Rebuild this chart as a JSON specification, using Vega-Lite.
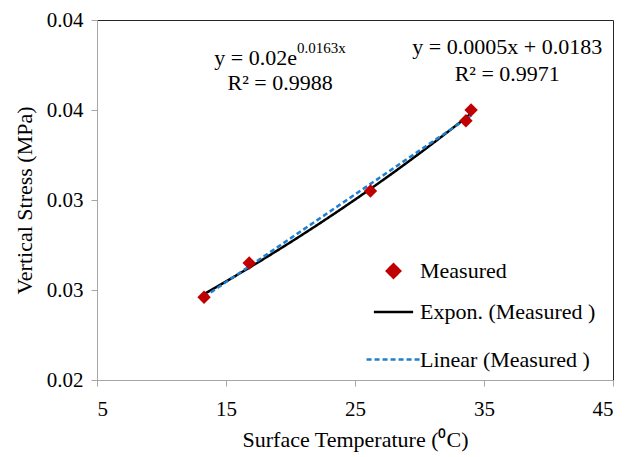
{
  "$schema": "https://vega.github.io/schema/vega-lite/v6.json",
  "width": 516,
  "height": 360,
  "autosize": "none",
  "padding": {"left": 97, "top": 20, "right": 29, "bottom": 77},
  "background": "white",
  "config": {
    "view": {"stroke": "#262626", "strokeWidth": 1},
    "font": "Liberation Serif",
    "axis": {
      "grid": false,
      "domainColor": "#a6a6a6",
      "tickColor": "#a6a6a6",
      "tickSize": 6,
      "labelFont": "Liberation Serif",
      "labelFontSize": 20,
      "labelColor": "#000000",
      "titleFont": "Liberation Serif",
      "titleFontSize": 22,
      "titleFontWeight": "normal",
      "titleColor": "#000000"
    }
  },
  "datasets": {
    "measured": [
      {"x": 13.3, "y": 0.0246},
      {"x": 16.8, "y": 0.0265},
      {"x": 26.2, "y": 0.0305},
      {"x": 33.6, "y": 0.0344},
      {"x": 34.0, "y": 0.0350}
    ],
    "notes": [
      {"label": "y = 0.02e", "x": 17.3, "y": 0.0379},
      {"label": "R² = 0.9988", "x": 19.2, "y": 0.0365},
      {"label": "y = 0.0005x + 0.0183", "x": 36.8, "y": 0.0385},
      {"label": "R² = 0.9971", "x": 36.8, "y": 0.0370}
    ],
    "sup": [
      {"label": "0.0163x", "x": 22.4, "y": 0.03845}
    ]
  },
  "layer": [
    {
      "data": {"name": "measured"},
      "transform": [{"regression": "y", "on": "x", "method": "exp"}],
      "mark": {"type": "line", "strokeWidth": 2.5},
      "encoding": {
        "x": {"field": "x", "type": "quantitative"},
        "y": {"field": "y", "type": "quantitative"},
        "color": {"datum": "Expon. (Measured )"},
        "strokeDash": {"datum": "Expon. (Measured )"}
      }
    },
    {
      "data": {"name": "measured"},
      "transform": [{"regression": "y", "on": "x", "method": "linear"}],
      "mark": {"type": "line", "strokeWidth": 2.5},
      "encoding": {
        "x": {"field": "x", "type": "quantitative"},
        "y": {"field": "y", "type": "quantitative"},
        "color": {"datum": "Linear (Measured )"},
        "strokeDash": {"datum": "Linear (Measured )"}
      }
    },
    {
      "data": {"name": "measured"},
      "mark": {"type": "point", "filled": true, "opacity": 1},
      "encoding": {
        "x": {
          "field": "x", "type": "quantitative",
          "scale": {"domain": [5, 45], "nice": false, "zero": false},
          "axis": {"values": [5, 15, 25, 35, 45], "title": "Surface Temperature (⁰C)", "labelFont": "Liberation Serif", "labelFontSize": 21, "labelPadding": 12, "titlePadding": 10}
        },
        "y": {
          "field": "y", "type": "quantitative",
          "scale": {"domain": [0.02, 0.04], "nice": false, "zero": false},
          "axis": {"values": [0.02, 0.025, 0.03, 0.035, 0.04], "format": ".2f", "title": "Vertical Stress (MPa)", "labelFont": "Liberation Serif", "labelFontSize": 21, "labelPadding": 8, "titlePadding": 10}
        },
        "color": {
          "datum": "Measured",
          "scale": {"domain": ["Measured", "Expon. (Measured )", "Linear (Measured )"], "range": ["#C00000", "#000000", "#1F7FD0"]},
          "legend": {
            "title": null,
            "orient": "none",
            "legendX": 268,
            "legendY": 240,
            "padding": 0,
            "rowPadding": 8,
            "labelFont": "Liberation Serif",
            "labelFontSize": 22,
            "labelColor": "#000000",
            "labelLimit": 0,
            "labelOffset": -2,
            "symbolStrokeWidth": 2.5
          }
        },
        "shape": {
          "datum": "Measured",
          "scale": {"domain": ["Measured", "Expon. (Measured )", "Linear (Measured )"], "range": ["diamond", "stroke", "stroke"]}
        },
        "size": {
          "datum": "Measured",
          "scale": {"domain": ["Measured", "Expon. (Measured )", "Linear (Measured )"], "range": [180, 2900, 2900]}
        },
        "strokeDash": {
          "datum": "Measured",
          "scale": {"domain": ["Measured", "Expon. (Measured )", "Linear (Measured )"], "range": [[1, 0], [1, 0], [5, 3]]}
        }
      }
    },
    {
      "data": {"name": "notes"},
      "mark": {"type": "text", "font": "Liberation Serif", "fontSize": 22, "align": "center", "baseline": "middle", "color": "#000000"},
      "encoding": {
        "x": {"field": "x", "type": "quantitative"},
        "y": {"field": "y", "type": "quantitative"},
        "text": {"field": "label"}
      }
    },
    {
      "data": {"name": "sup"},
      "mark": {"type": "text", "font": "Liberation Serif", "fontSize": 15, "align": "center", "baseline": "middle", "color": "#000000"},
      "encoding": {
        "x": {"field": "x", "type": "quantitative"},
        "y": {"field": "y", "type": "quantitative"},
        "text": {"field": "label"}
      }
    }
  ]
}
